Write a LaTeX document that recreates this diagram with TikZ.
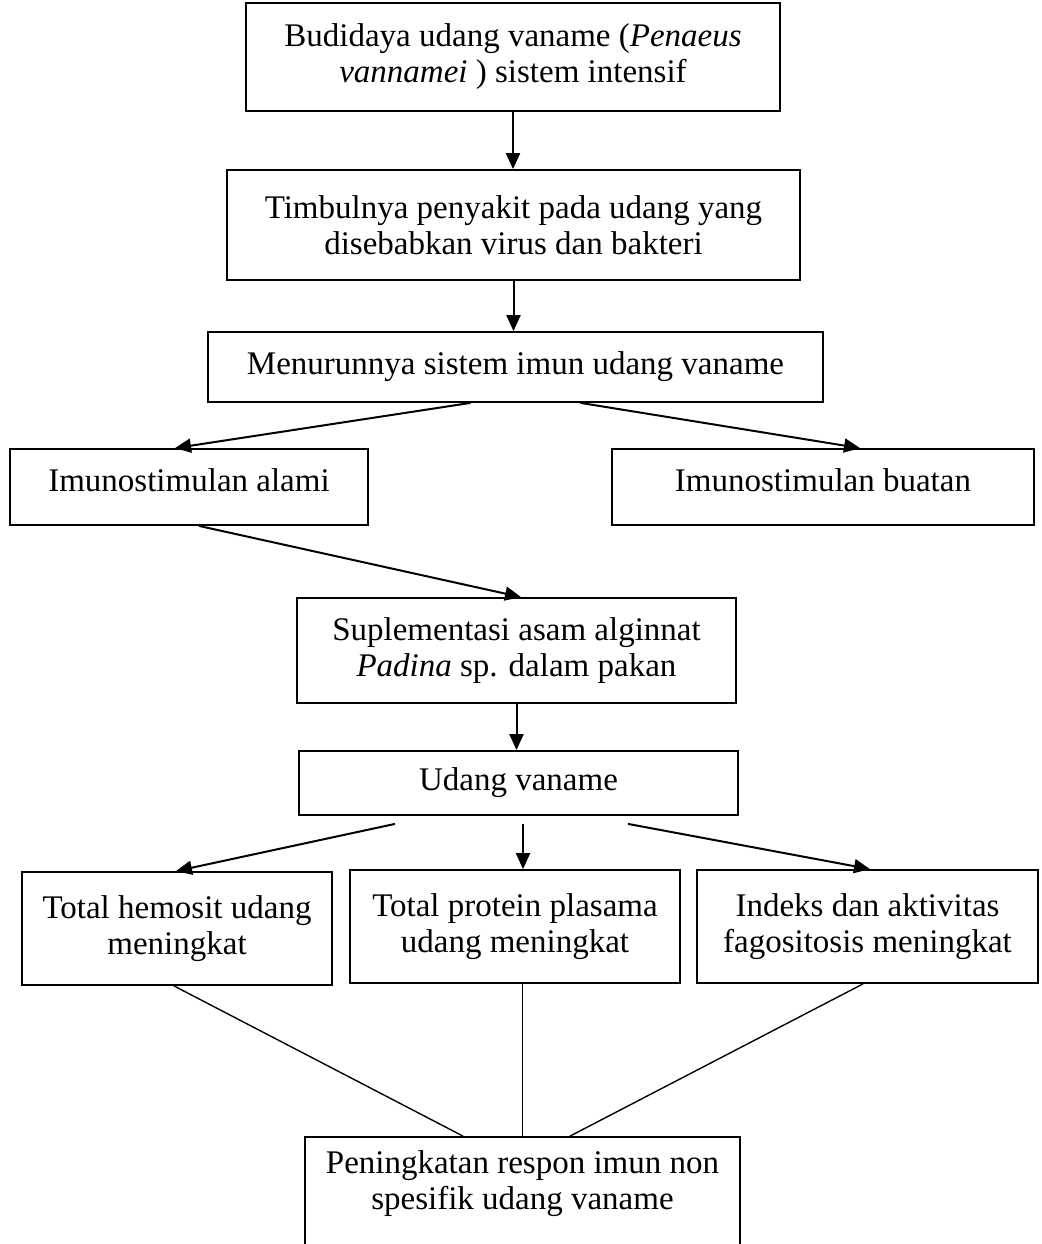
\documentclass[tikz,border=0pt]{standalone}
\usepackage{fontspec}
\setmainfont{Liberation Serif}
\usetikzlibrary{arrows.meta,calc,positioning}

\begin{document}
\begin{tikzpicture}[x=0.5pt,y=-0.5pt,>={Triangle[length=8pt,width=7pt]},
  box/.style={draw,line width=0.9pt,align=center,inner sep=2pt,font=\fontsize{16.5}{18}\selectfont},
  arr/.style={->,line width=1pt},
  ln/.style={line width=0.7pt}]
\useasboundingbox (0,0) rectangle (1041,1244);
% boxes
\node[box,minimum width=267pt,minimum height=54pt] (budi) at (513,57){Budidaya udang vaname (\textit{Penaeus}\\\textit{vannamei} ) sistem intensif};
\node[box,minimum width=286.5pt,minimum height=55pt] (sakit) at (513.5,225){Timbulnya penyakit pada udang yang\\disebabkan virus dan bakteri};
\node[box,minimum width=307.5pt,minimum height=35pt] (imun) at (515.5,367){Menurunnya sistem imun udang vaname};
\node[box,minimum width=179pt,minimum height=38pt,text depth=7pt] (alami) at (189,487){Imunostimulan alami};
\node[box,minimum width=211pt,minimum height=38pt,text depth=7pt] (buatan) at (823,487){Imunostimulan buatan};
\node[box,minimum width=219.5pt,minimum height=52.5pt] (suple) at (516.5,650.5){Suplementasi asam alginnat\\\textit{Padina} sp. dalam pakan};
\node[box,minimum width=219.5pt,minimum height=32pt] (udang) at (518.5,783){Udang vaname};
\node[box,minimum width=155pt,minimum height=56.5pt] (hemo) at (177,928.5){Total hemosit udang\\meningkat};
\node[box,minimum width=165pt,minimum height=56.5pt] (prot) at (515,926.5){Total protein plasama\\udang meningkat};
\node[box,minimum width=170.5pt,minimum height=56.5pt] (fago) at (867.5,926.5){Indeks dan aktivitas\\fagositosis meningkat};
\node[box,minimum width=217.5pt,minimum height=57.5pt,text depth=14pt] (respon) at (522.5,1194.5){Peningkatan respon imun non\\spesifik udang vaname};
% arrows
\draw[arr] (budi) -- (budi.south |- sakit.north);
\draw[arr] (sakit.south) -- (sakit.south |- imun.north);
\draw[arr] ($(imun.south)+(-45,0)$) -- ($(alami.north)+(-14,0)$);
\draw[arr] ($(imun.south)+(65,0)$) -- ($(buatan.north)+(37,0)$);
\draw[arr] ($(alami.south)+(10,0)$) -- ($(suple.north)+(4.5,0)$);
\draw[arr] (suple.south) -- (suple.south |- udang.north);
\draw[arr] ($(udang.south)+(-123.5,8)$) -- ($(hemo.north)+(-1,0)$);
\draw[arr] ($(udang.south)+(4.5,8)$) -- ($(prot.north)+(8,0)$);
\draw[arr] ($(udang.south)+(109.5,8)$) -- ($(fago.north)+(2.5,0)$);
% lines to the last box
\draw[ln] ($(hemo.south)+(-3,0)$) -- ($(respon.north)+(-59.5,0)$);
\draw[ln] (respon.north |- prot.south) -- (respon.north);
\draw[ln] ($(fago.south)+(-4.5,0)$) -- ($(respon.north)+(47.5,0)$);
\end{tikzpicture}
\end{document}
